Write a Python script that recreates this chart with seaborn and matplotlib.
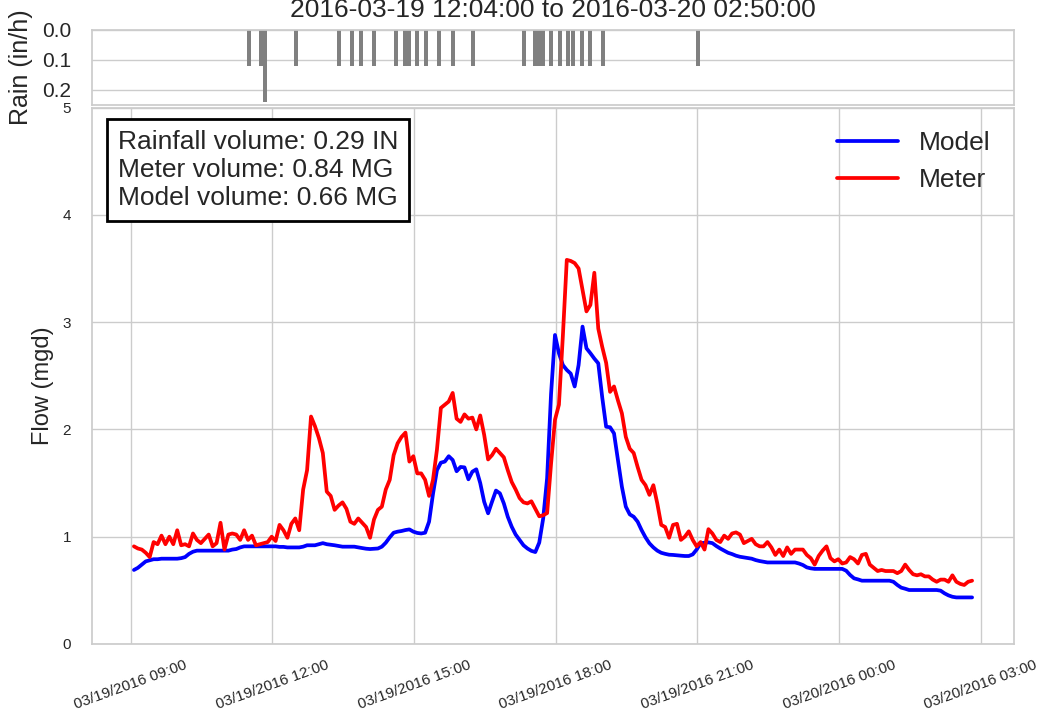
import matplotlib
matplotlib.use("Agg")
import matplotlib.pyplot as plt
import matplotlib.dates as mdates
import pandas as pd
import seaborn as sns

# flow series, 5-minute readings starting 09:04 on 03/19/2016
START = "2016-03-19 09:04"
STEP = "5min"

model_flow = [
    0.69, 0.71, 0.74, 0.77, 0.78, 0.79, 0.79, 0.795, 0.795, 0.795,
    0.795, 0.795, 0.80, 0.81, 0.84, 0.86, 0.87, 0.87, 0.87, 0.87,
    0.87, 0.87, 0.87, 0.87, 0.87, 0.88, 0.885, 0.90, 0.91, 0.91,
    0.91, 0.91, 0.91, 0.91, 0.91, 0.91, 0.91, 0.905, 0.905, 0.90,
    0.90, 0.90, 0.90, 0.907, 0.92, 0.92, 0.92, 0.93, 0.94, 0.93,
    0.925, 0.92, 0.913, 0.907, 0.907, 0.907, 0.907, 0.90, 0.894, 0.888,
    0.885, 0.888, 0.89, 0.907, 0.944, 0.994, 1.037, 1.047, 1.053, 1.062,
    1.068, 1.047, 1.035, 1.03, 1.037, 1.14, 1.40, 1.62, 1.69, 1.70,
    1.75, 1.715, 1.61, 1.65, 1.646, 1.535, 1.606, 1.628, 1.50, 1.326,
    1.218, 1.326, 1.43, 1.404, 1.31, 1.186, 1.093, 1.02, 0.97, 0.92,
    0.89, 0.868, 0.857, 0.945, 1.17, 1.545, 2.33, 2.88, 2.71, 2.60,
    2.554, 2.52, 2.40, 2.60, 2.958, 2.756, 2.71, 2.66, 2.616, 2.30,
    2.025, 2.02, 1.963, 1.715, 1.466, 1.28, 1.208, 1.186, 1.14, 1.062,
    0.994, 0.938, 0.90, 0.87, 0.85, 0.84, 0.832, 0.83, 0.826, 0.823,
    0.82, 0.82, 0.835, 0.88, 0.94, 0.944, 0.947, 0.94, 0.913, 0.89,
    0.87, 0.85, 0.838, 0.823, 0.813, 0.807, 0.80, 0.795, 0.782, 0.773,
    0.767, 0.76, 0.76, 0.76, 0.76, 0.76, 0.76, 0.76, 0.76, 0.75,
    0.736, 0.714, 0.705, 0.70, 0.70, 0.70, 0.70, 0.70, 0.70, 0.70,
    0.70, 0.683, 0.643, 0.612, 0.602, 0.59, 0.59, 0.59, 0.59, 0.59,
    0.59, 0.59, 0.59, 0.58, 0.55, 0.525, 0.515, 0.503, 0.503, 0.503,
    0.503, 0.503, 0.503, 0.503, 0.503, 0.497, 0.472, 0.453, 0.44, 0.434,
    0.434, 0.434, 0.434, 0.434,
]

meter_flow = [
    0.91, 0.89, 0.88, 0.85, 0.81, 0.95, 0.93, 1.01, 0.93, 1.00,
    0.93, 1.06, 0.92, 0.93, 0.91, 1.03, 0.97, 0.94, 0.98, 1.02,
    0.91, 0.94, 1.13, 0.88, 1.02, 1.03, 1.02, 0.97, 1.06, 0.97,
    1.01, 0.92, 0.93, 0.94, 0.95, 1.00, 0.96, 1.11, 1.06, 0.99,
    1.12, 1.17, 1.06, 1.44, 1.62, 2.12, 2.03, 1.92, 1.78, 1.42,
    1.38, 1.25, 1.29, 1.32, 1.26, 1.14, 1.12, 1.17, 1.13, 1.09,
    0.99, 1.16, 1.25, 1.28, 1.44, 1.53, 1.76, 1.87, 1.93, 1.97,
    1.70, 1.75, 1.59, 1.59, 1.53, 1.38, 1.53, 1.81, 2.20, 2.23,
    2.26, 2.34, 2.10, 2.07, 2.14, 2.10, 2.11, 2.00, 2.13, 1.95,
    1.72, 1.76, 1.82, 1.78, 1.74, 1.62, 1.51, 1.44, 1.36, 1.32,
    1.31, 1.33, 1.26, 1.19, 1.20, 1.22, 1.68, 2.09, 2.23, 2.87,
    3.58, 3.57, 3.55, 3.50, 3.30, 3.10, 3.16, 3.46, 2.94, 2.77,
    2.62, 2.35, 2.40, 2.27, 2.15, 1.93, 1.82, 1.78, 1.65, 1.53,
    1.48, 1.39, 1.48, 1.31, 1.11, 1.09, 0.99, 1.11, 1.12, 0.97,
    1.00, 1.05, 0.97, 0.91, 0.95, 0.88, 1.07, 1.03, 0.97, 0.95,
    1.01, 0.98, 1.03, 1.04, 1.02, 0.94, 0.96, 0.98, 0.93, 0.91,
    0.91, 0.95, 0.90, 0.83, 0.88, 0.82, 0.90, 0.84, 0.88, 0.88,
    0.88, 0.83, 0.80, 0.74, 0.82, 0.87, 0.91, 0.80, 0.77, 0.79,
    0.75, 0.76, 0.81, 0.79, 0.75, 0.83, 0.84, 0.74, 0.71, 0.68,
    0.69, 0.68, 0.68, 0.68, 0.66, 0.68, 0.74, 0.69, 0.65, 0.64,
    0.65, 0.63, 0.63, 0.60, 0.58, 0.60, 0.60, 0.58, 0.64, 0.58,
    0.56, 0.55, 0.58, 0.59,
]

# rain gauge (in/h)
rain_times = [
    "2016-03-19 11:30", "2016-03-19 11:46", "2016-03-19 11:51", "2016-03-19 12:30",
    "2016-03-19 13:25", "2016-03-19 13:41", "2016-03-19 13:52", "2016-03-19 14:09",
    "2016-03-19 14:37", "2016-03-19 14:48", "2016-03-19 14:53", "2016-03-19 15:04",
    "2016-03-19 15:15", "2016-03-19 15:32", "2016-03-19 15:49", "2016-03-19 16:15",
    "2016-03-19 17:20", "2016-03-19 17:34", "2016-03-19 17:39", "2016-03-19 17:44",
    "2016-03-19 17:54", "2016-03-19 18:05", "2016-03-19 18:16", "2016-03-19 18:22",
    "2016-03-19 18:33", "2016-03-19 18:44", "2016-03-19 19:00", "2016-03-19 21:01",
]
rain_values = [
    0.12, 0.12, 0.24, 0.12,
    0.12, 0.12, 0.12, 0.12,
    0.12, 0.12, 0.12, 0.12,
    0.12, 0.12, 0.12, 0.12,
    0.12, 0.12, 0.12, 0.12,
    0.12, 0.12, 0.12, 0.12,
    0.12, 0.12, 0.12, 0.12,
]

title = "2016-03-19 12:04:00 to 2016-03-20 02:50:00"
summary = "Rainfall volume: 0.29 IN\nMeter volume: 0.84 MG\nModel volume: 0.66 MG"

sns.set_theme(style="whitegrid")
plt.rcParams["font.family"] = ["Liberation Sans", "DejaVu Sans"]

times = pd.date_range(START, periods=len(meter_flow), freq=STEP)

fig = plt.figure(figsize=(10.4, 7.28), dpi=100)
ax = fig.add_axes([0.0885, 0.1154, 0.8865, 0.7369])
rax = fig.add_axes([0.0885, 0.8558, 0.8865, 0.103], sharex=ax)

sns.lineplot(x=times, y=model_flow, color="blue", linewidth=2.7, label="Model", ax=ax)
sns.lineplot(x=times, y=meter_flow, color="red", linewidth=2.7, label="Meter", ax=ax)

ax.set_ylim(0, 5)
ax.set_yticks(range(6))
ax.set_xlabel("")
ax.set_ylabel("Flow (mgd)", fontsize=17)
ax.yaxis.set_label_coords(-0.041, 0.482)
ax.xaxis.set_major_locator(mdates.HourLocator(byhour=range(0, 24, 3)))
ax.xaxis.set_major_formatter(mdates.DateFormatter("%m/%d/%Y %H:%M"))
ax.tick_params(axis="x", labelsize=11, pad=4)
ax.tick_params(axis="y", labelsize=11, pad=9)
plt.setp(ax.get_xticklabels(), rotation=20)

ax.legend(loc="upper right", frameon=False, fontsize=19, handlelength=2.3)

ax.text(0.028, 0.958, summary, transform=ax.transAxes, va="top", ha="left",
        fontsize=19, linespacing=1.2,
        bbox=dict(boxstyle="square,pad=0.42", facecolor="white", edgecolor="black", linewidth=2))

# rain hyetograph on top
rax.bar(pd.to_datetime(rain_times), rain_values, width=5 / 1440, color="gray", linewidth=0)
rax.set_ylim(0.25, 0)
rax.set_yticks([0.0, 0.1, 0.2])
rax.set_yticklabels(["0.0", "0.1", "0.2"])
rax.tick_params(axis="y", labelsize=15, pad=9)
rax.tick_params(axis="x", bottom=False, labelbottom=False)
rax.grid(False, axis="x")
rax.set_ylabel("Rain (in/h)", fontsize=18)
rax.yaxis.set_label_coords(-0.064, 0.5)
rax.set_title(title, fontsize=19, pad=9)

fig.savefig("out.png", dpi=100)
